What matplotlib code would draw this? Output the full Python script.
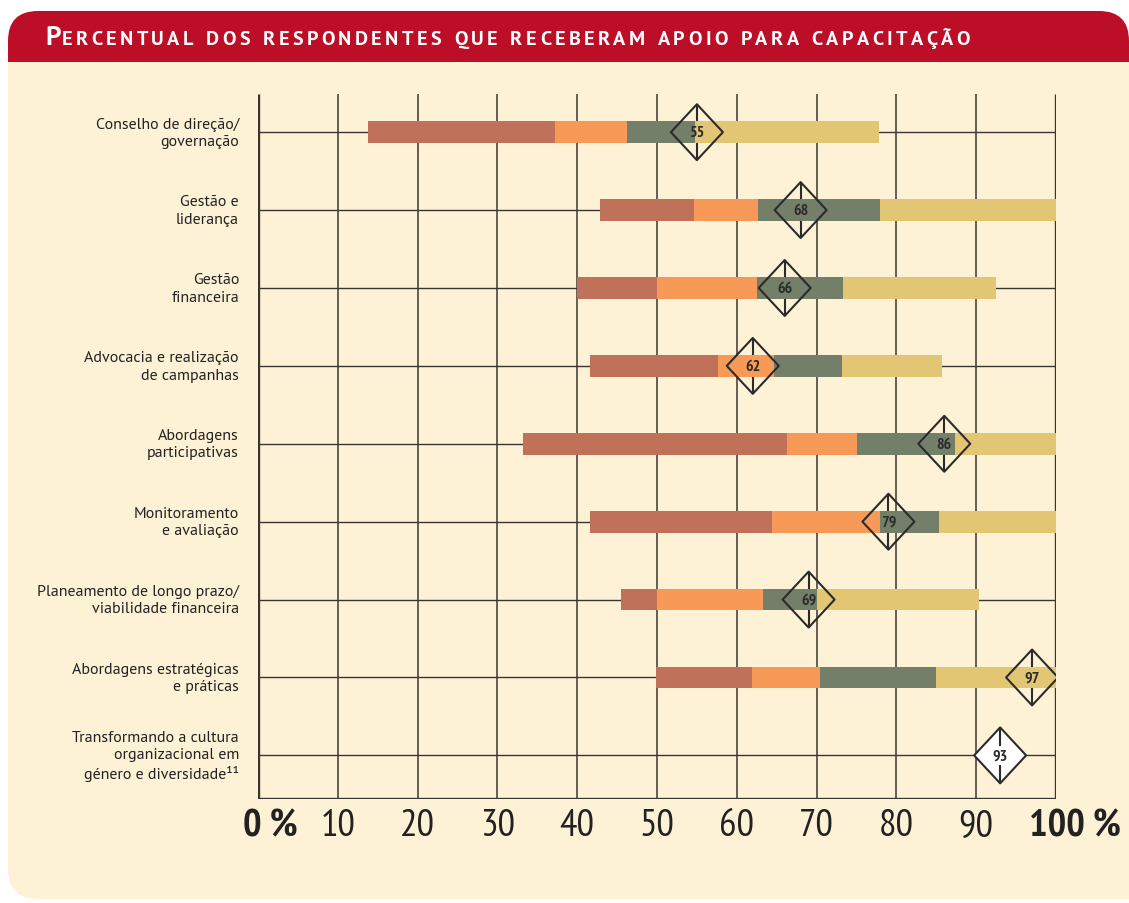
import matplotlib.pyplot as plt
import numpy as np
from matplotlib import font_manager as fm
from matplotlib.patches import FancyBboxPatch, Rectangle
from matplotlib.path import Path

# Data (percent)
categories = [
    "Conselho de direção/\ngovernação",
    "Gestão e\nliderança",
    "Gestão\nfinanceira",
    "Advocacia e realização\nde campanhas",
    "Abordagens\nparticipativas",
    "Monitoramento\ne avaliação",
    "Planeamento de longo prazo/\nviabilidade financeira",
    "Abordagens estratégicas\ne práticas",
    "Transformando a cultura\norganizacional em\ngénero e diversidade¹¹",
]
brown_start = [13.8, 42.9, 40.0, 41.6, 33.2, 41.6, 45.5, 49.9]
brown_end = [37.2, 54.6, 50.0, 57.6, 66.3, 64.4, 50.0, 61.9]
orange_end = [46.2, 62.6, 62.5, 64.6, 75.1, 77.9, 63.3, 70.4]
green_end = [54.7, 77.9, 73.3, 73.2, 87.3, 85.4, 70.1, 85.0]
yellow_end = [77.8, 100.0, 92.5, 85.7, 100.0, 100.0, 90.4, 100.0]
marker_values = [55, 68, 66, 62, 86, 79, 69, 97, 93]
tick_values = [0, 10, 20, 30, 40, 50, 60, 70, 80, 90, 100]
tick_labels = ["0 %", "10", "20", "30", "40", "50", "60", "70", "80", "90", "100 %"]

title_first = "P"
title_rest = "ERCENTUAL DOS RESPONDENTES QUE RECEBERAM APOIO PARA CAPACITAÇÃO"

# Colours
RED = "#bc0f27"
CREAM = "#fef2d6"
BROWN = "#c0715a"
ORANGE = "#f79a57"
GREEN = "#747f69"
YELLOW = "#e2c673"
LINE = "#3a3530"
INK = "#2b2b2b"

installed = set(f.name for f in fm.fontManager.ttflist)


def pick(cands):
    for c in cands:
        if c in installed:
            return c
    return "DejaVu Sans"


NARROW = pick(["PT Sans Narrow", "Fira Sans Condensed", "Roboto Condensed", "Archivo Narrow",
               "Liberation Sans Narrow", "Encode Sans Condensed", "Barlow Semi Condensed"])
HUMAN = pick(["PT Sans", "Lato"])

fig = plt.figure(figsize=(11.29, 9.04), dpi=100)

# Background panel and title banner, in pixel coordinates
bg = fig.add_axes([0, 0, 1, 1])
bg.set_xlim(0, 1129)
bg.set_ylim(904, 0)
bg.axis("off")
bg.add_patch(FancyBboxPatch((8, 12), 1121, 150, boxstyle="round,pad=0,rounding_size=30",
                            fc=RED, ec="none"))
bg.add_patch(Rectangle((8, 63), 1121, 700, fc=CREAM, ec="none"))
bg.add_patch(FancyBboxPatch((8, 500), 1200, 400, boxstyle="round,pad=0,rounding_size=30",
                            fc=CREAM, ec="none"))

# title, letter-spaced small caps
renderer = fig.canvas.get_renderer()
t1 = bg.text(45, 45, title_first, color="white", fontsize=19.5, fontweight="bold",
             family=HUMAN, va="baseline", ha="left")
x0 = t1.get_window_extent(renderer=renderer).x1 + 1
chars = []
widths = []
for ch in title_rest:
    t = bg.text(0, 45, ch, color="white", fontsize=14.5, fontweight="bold",
                family=HUMAN, va="baseline", ha="left")
    w = t.get_window_extent(renderer=renderer).width if ch != " " else 0
    chars.append(t)
    widths.append(w)
space_w = 6
natural = sum(w if w > 0 else space_w for w in widths)
track = (970 - x0 - natural) / (len(chars) - 1)
x = x0
for t, w in zip(chars, widths):
    t.set_x(x)
    x += (w if w > 0 else space_w) + track

# Main plot area
ax = fig.add_axes([258 / 1129, 104 / 904, 798 / 1129, 705 / 904])
ax.set_xlim(0, 100)
ax.set_ylim(8.56, -0.49)
ax.set_facecolor("none")
for s in ax.spines.values():
    s.set_visible(False)
ax.set_xticks([])
ax.set_yticks([])

rows = np.arange(len(categories))
bar_rows = np.arange(len(brown_start))
bh = 0.28

# grid
xt = ax.get_xaxis_transform()
ax.vlines(tick_values[1:-1], 0, 1, transform=xt, color=LINE, lw=1.1, zorder=1)
ax.vlines([0, 100], 0, 1, transform=xt, color=LINE, lw=2.4, zorder=1)
ax.hlines([0], 0, 100, transform=xt, color=LINE, lw=2.4, zorder=1)
ax.hlines(rows, 0, 100, color=LINE, lw=1.0, zorder=1.5)

# diamond markers: fill for the last row only, vertical stem, outline
half_h = 0.36
dpath = Path([[0, 1], [0.93, 0], [0, -1], [-0.93, 0], [0, 1]],
             [Path.MOVETO, Path.LINETO, Path.LINETO, Path.LINETO, Path.CLOSEPOLY])
fills = ["none"] * len(bar_rows) + ["white"] * (len(rows) - len(bar_rows))
ax.scatter(marker_values, rows, marker=dpath, s=1620, facecolors=fills, edgecolors="none", zorder=2.2)
ax.vlines(marker_values, rows - half_h, rows + half_h, color=INK, lw=1.5, zorder=2.5)

# segmented bars
bs = np.array(brown_start)
be = np.array(brown_end)
oe = np.array(orange_end)
ge = np.array(green_end)
ye = np.array(yellow_end)
ax.barh(bar_rows, be - bs, left=bs, height=bh, color=BROWN, zorder=3)
ax.barh(bar_rows, oe - be, left=be, height=bh, color=ORANGE, zorder=3)
ax.barh(bar_rows, ge - oe, left=oe, height=bh, color=GREEN, zorder=3)
ax.barh(bar_rows, ye - ge, left=ge, height=bh, color=YELLOW, zorder=3)

ax.scatter(marker_values, rows, marker=dpath, s=1620, facecolors="none", edgecolors=INK,
           linewidths=1.5, zorder=4)
for i, (v, r) in enumerate(zip(marker_values, rows)):
    kw = {}
    if i >= len(bar_rows):
        kw["bbox"] = dict(boxstyle="square,pad=0.15", fc="white", ec="none")
    ax.text(v, r, str(v), ha="center", va="center", fontsize=11.5, fontweight="bold",
            family=NARROW, color=INK, zorder=5, **kw)

# category labels
for r, lab in zip(rows, categories):
    ax.annotate(lab, xy=(0, r), xytext=(-19, 0), textcoords="offset pixels",
                ha="right", va="center", fontsize=11.5, family=HUMAN, color="#222222",
                linespacing=1.3, multialignment="right")

# x tick labels
for v, lab in zip(tick_values, tick_labels):
    bold = "%" in lab
    dx = 0
    if v == 0:
        dx = 12
    elif v == 100:
        dx = 19
    ax.annotate(lab, xy=(v, 0), xycoords=xt, xytext=(dx, -27), textcoords="offset pixels",
                ha="center", va="center", fontsize=28, family=NARROW,
                fontweight="bold" if bold else "normal", color="#222222")

fig.savefig("out.png", dpi=100, facecolor="white")
